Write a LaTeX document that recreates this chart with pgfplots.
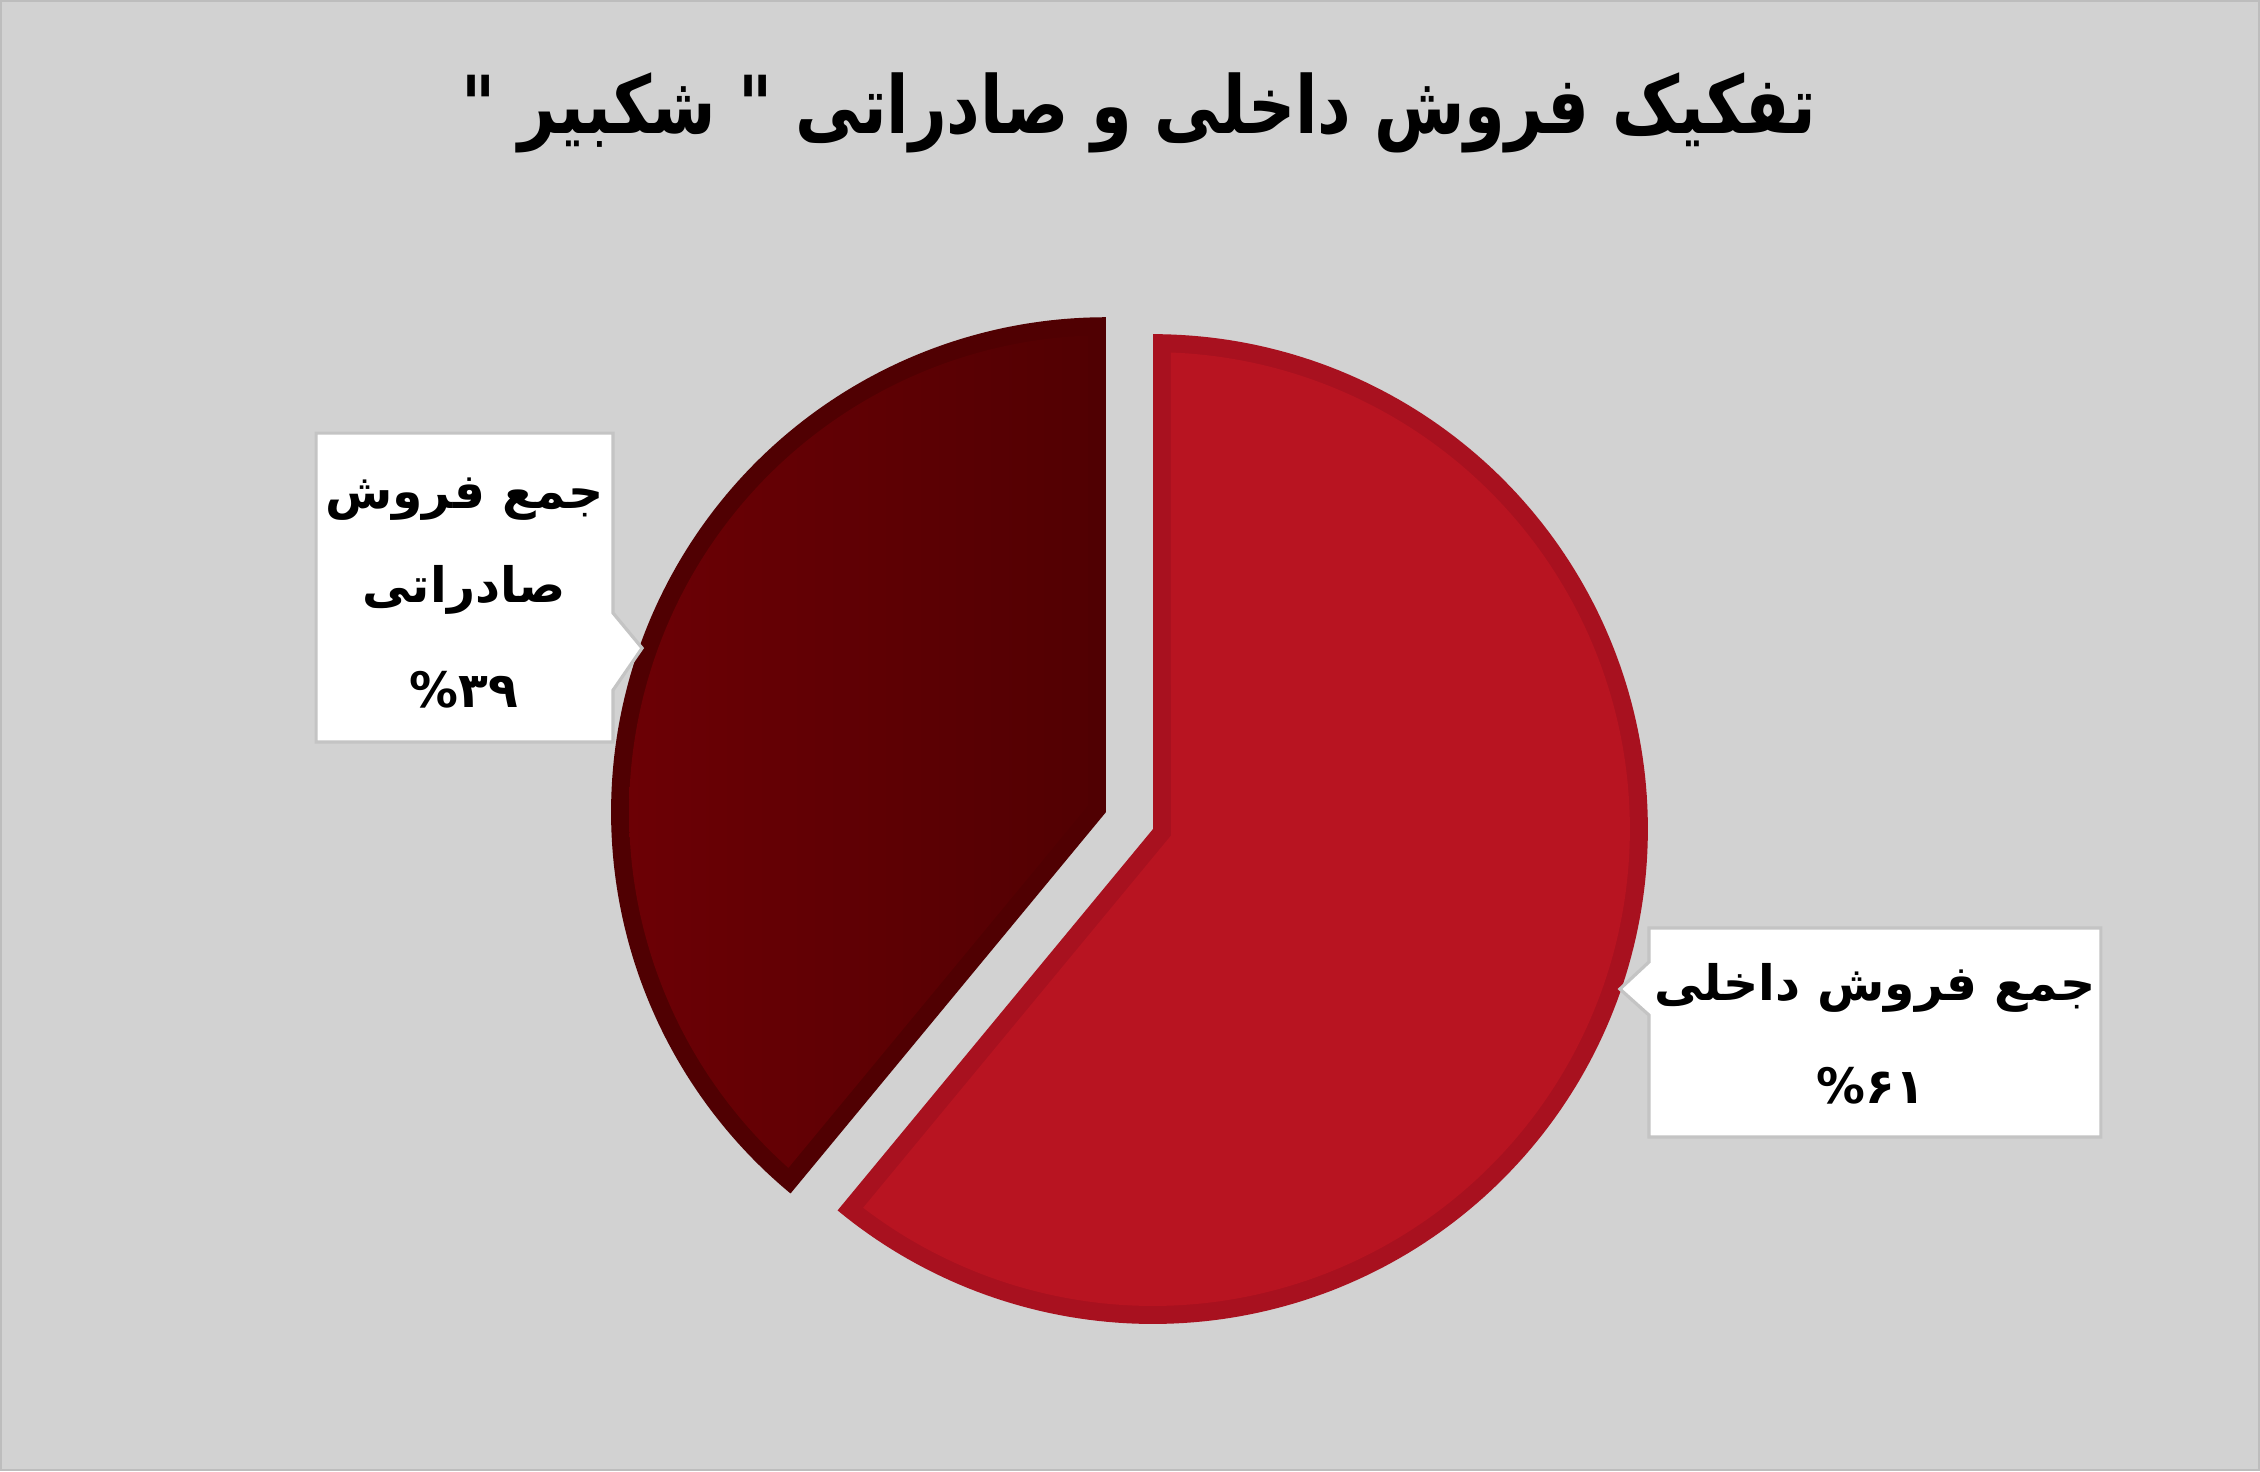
\documentclass[border=0pt]{standalone}
\usepackage{pgfplots}
\pgfplotsset{compat=1.18}
\usepackage{pgfplotstable}
\usepackage{fontspec}
\setmainfont{DejaVu Sans}
\newfontfamily\arabicfont[Script=Arabic]{DejaVu Sans}
\TeXXeTstate=1

\definecolor{bgGray}{HTML}{D2D2D2}
\definecolor{frameGray}{HTML}{BDBDBD}
\definecolor{boxGray}{HTML}{C4C4C4}
\definecolor{redFill}{HTML}{B81421}
\definecolor{redBorder}{HTML}{A8111F}
\definecolor{darkLeft}{HTML}{6C0005}
\definecolor{darkRight}{HTML}{520002}
\definecolor{darkBorder}{HTML}{500002}

% share of sales (percent)
\pgfplotstableread{
part value
dakheli 61
saderati 39
}\pietable

\begin{document}
\begin{tikzpicture}
\pgfplotstablegetelem{0}{value}\of\pietable \let\vA\pgfplotsretval
\pgfplotstablegetelem{1}{value}\of\pietable \let\vB\pgfplotsretval
\pgfmathsetmacro\spanA{360*(\vA/(\vA+\vB))}
\pgfmathsetmacro\spanB{360-\spanA}
\def\cx{1153}\def\cy{642}\def\R{495}\def\bw{18}\def\expl{50}
\pgfmathsetmacro\Ri{\R-\bw}
\pgfmathsetmacro\dlt{asin(\bw/\Ri)}
\pgfmathsetmacro\inset{\bw/sin(\spanA/2)}
% domestic slice, clockwise from 12 o'clock
\pgfmathsetmacro\aS{90-\spanA}
\pgfmathsetmacro\aE{90}
\pgfmathsetmacro\aSi{\aS+\dlt}
\pgfmathsetmacro\aEi{\aE-\dlt}
\pgfmathsetmacro\bisA{90-\spanA/2}
\pgfmathsetmacro\axv{\cx+\inset*cos(\bisA)}
\pgfmathsetmacro\ayv{\cy+\inset*sin(\bisA)}
% export slice, exploded
\pgfmathsetmacro\bS{90}
\pgfmathsetmacro\bE{90+\spanB}
\pgfmathsetmacro\bSi{\bS+\dlt}
\pgfmathsetmacro\bEi{\bE-\dlt}
\pgfmathsetmacro\bisB{90+\spanB/2}
\pgfmathsetmacro\bcx{\cx+\expl*cos(\bisB)}
\pgfmathsetmacro\bcy{\cy+\expl*sin(\bisB)}
\pgfmathsetmacro\bxv{\bcx+\inset*cos(\bisB)}
\pgfmathsetmacro\byv{\bcy+\inset*sin(\bisB)}
\begin{axis}[
    width=565pt, height=367.75pt,
    scale only axis,
    xmin=0, xmax=2260, ymin=0, ymax=1471,
    hide axis,
    clip=false,
  ]
  \fill[bgGray] (axis cs:0,0) rectangle (axis cs:2260,1471);
  \draw[frameGray, line width=0.6pt] (axis cs:1,1) rectangle (axis cs:2259,1470);

  % domestic 61%
  \addplot[draw=none, fill=redBorder, domain=\aS:\aE, samples=200]
    ({\cx+\R*cos(x)}, {\cy+\R*sin(x)}) -- (axis cs:\cx,\cy) -- cycle;
  \addplot[draw=none, fill=redFill, domain=\aSi:\aEi, samples=200]
    ({\cx+\Ri*cos(x)}, {\cy+\Ri*sin(x)}) -- (axis cs:\axv,\ayv) -- cycle;

  % export 39%
  \addplot[draw=none, fill=darkBorder, domain=\bS:\bE, samples=200]
    ({\bcx+\R*cos(x)}, {\bcy+\R*sin(x)}) -- (axis cs:\bcx,\bcy) -- cycle;
  \addplot[draw=none, left color=darkLeft, right color=darkRight, domain=\bSi:\bEi, samples=200]
    ({\bcx+\Ri*cos(x)}, {\bcy+\Ri*sin(x)}) -- (axis cs:\bxv,\byv) -- cycle;

  % callouts
  \draw[fill=white, draw=boxGray, line width=0.8pt]
    (axis cs:316,1038) -- (axis cs:613,1038) -- (axis cs:613,858) -- (axis cs:642,823)
    -- (axis cs:613,781) -- (axis cs:613,729) -- (axis cs:316,729) -- cycle;
  \draw[fill=white, draw=boxGray, line width=0.8pt]
    (axis cs:1649,543) -- (axis cs:2101,543) -- (axis cs:2101,334) -- (axis cs:1649,334)
    -- (axis cs:1649,456) -- (axis cs:1620,482) -- (axis cs:1649,509) -- cycle;

  \tikzset{lbl/.style={anchor=base, font=\arabicfont\bfseries\fontsize{12.2}{14}\selectfont}}
  \node[lbl] at (axis cs:464,963) {\beginR جمع فروش\endR};
  \node[lbl] at (axis cs:464,869) {\beginR صادراتی\endR};
  \node[lbl] at (axis cs:464,764) {\%۳۹};
  \node[lbl] at (axis cs:1875,471) {\beginR جمع فروش داخلی\endR};
  \node[lbl] at (axis cs:1871,368) {\%۶۱};

  % title
  \node[anchor=base, font=\arabicfont\bfseries\fontsize{20}{24}\selectfont] at (axis cs:1139,1338)
    {\scalebox{0.82}[1]{\beginR تفکیک فروش داخلی و صادراتی " شکبیر "\endR}};
\end{axis}
\end{tikzpicture}
\end{document}
